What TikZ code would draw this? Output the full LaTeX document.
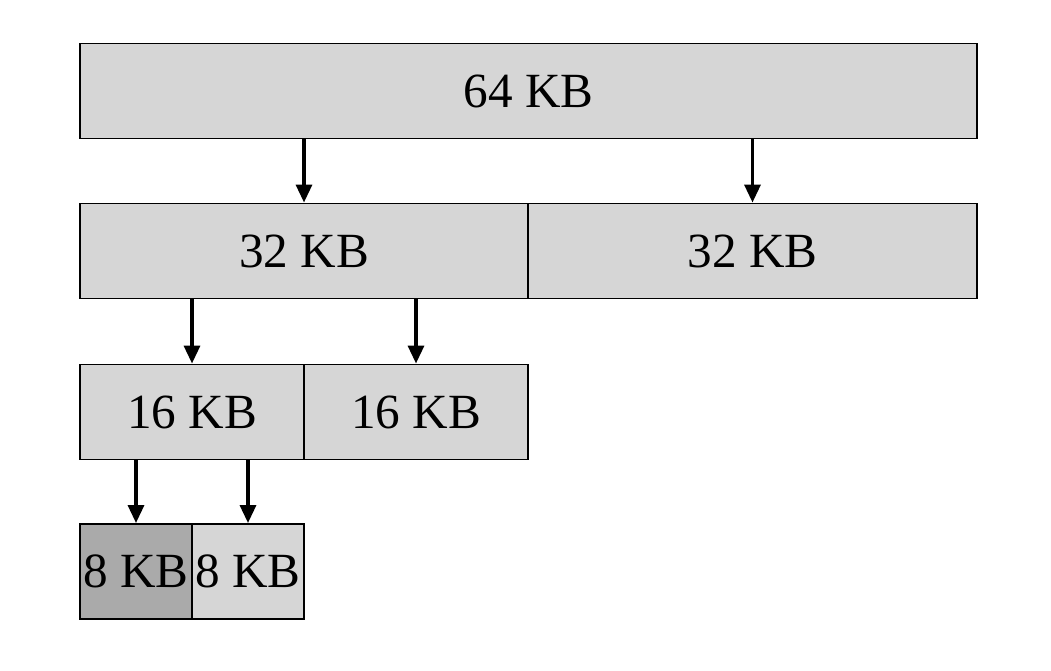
\documentclass[tikz,border=0pt]{standalone}
\usepackage{fontspec}
\setmainfont{Liberation Serif}
\usetikzlibrary{arrows.meta}
\definecolor{blockgray}{RGB}{214,214,214}
\definecolor{usedgray}{RGB}{170,170,170}
\begin{document}
\begin{tikzpicture}[x=0.02cm,y=-0.02cm,
	block/.style={rectangle,draw,line width=1.1pt,fill=blockgray,inner sep=0pt,minimum height=1.9cm,font=\fontsize{28}{33}\selectfont},
	split/.style={->,>={Triangle[length=0.36cm,width=0.32cm]},line width=1.9pt}]
	\useasboundingbox (0,0) rectangle (1051,671);
	\node[block,minimum width=17.94cm] (k64) at (528.5,91) {64 KB};
	\node[block,minimum width=8.96cm] (k32a) at (304,251) {32 KB};
	\node[block,minimum width=8.98cm] (k32b) at (752.5,251) {32 KB};
	\node[block,minimum width=4.48cm] (k16a) at (192,412) {16 KB};
	\node[block,minimum width=4.48cm] (k16b) at (416,412) {16 KB};
	\node[block,minimum width=2.24cm,fill=usedgray] (k8a) at (136,571.5) {8 KB};
	\node[block,minimum width=2.24cm] (k8b) at (248,571.5) {8 KB};

	\foreach \parent/\child in {k64/k32a,k64/k32b,k32a/k16a,k32a/k16b,k16a/k8a,k16a/k8b}
		\draw[split] (\parent.south -| \child.north) -- (\child.north);
\end{tikzpicture}
\end{document}
